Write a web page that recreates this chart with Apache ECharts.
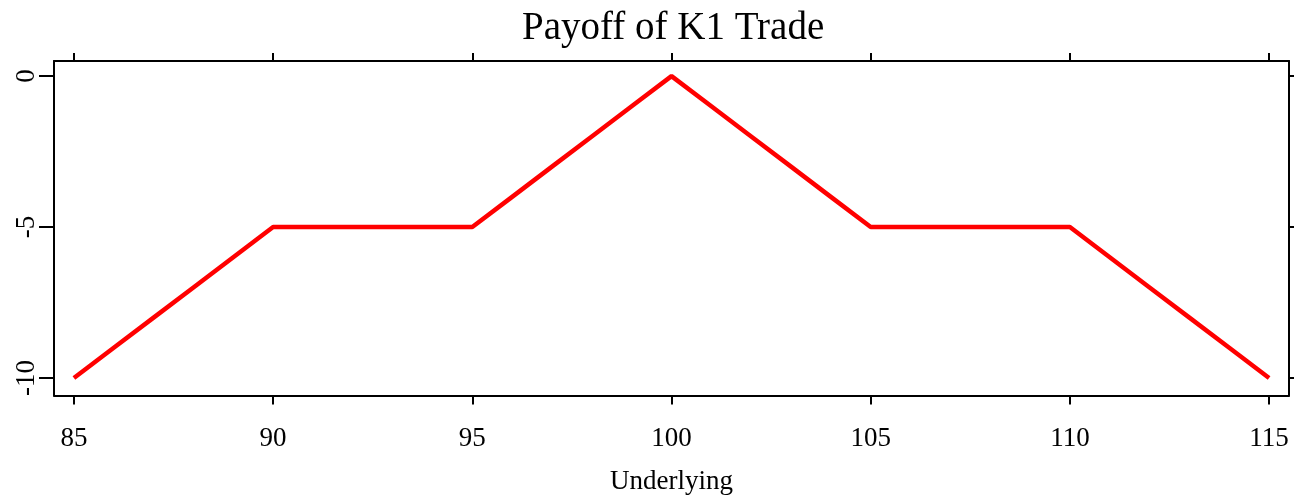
<!DOCTYPE html>
<html><head><meta charset="utf-8">
<script src="https://cdn.jsdelivr.net/npm/echarts@6/dist/echarts.min.js"></script>
<style>html,body{margin:0;padding:0;background:#fff}#c{width:1294px;height:496px}</style>
</head><body><div id="c"></div>
<script>
const underlying = [85,86,87,88,89,90,91,92,93,94,95,96,97,98,99,100,101,102,103,104,105,106,107,108,109,110,111,112,113,114,115];
const payoff = [-10,-9,-8,-7,-6,-5,-5,-5,-5,-5,-5,-4,-3,-2,-1,0,-1,-2,-3,-4,-5,-5,-5,-5,-5,-5,-6,-7,-8,-9,-10];
const xTicks = [85,90,95,100,105,110,115];
const yTicks = [-10,-5,0];
const titleText = 'Payoff of K1 Trade';
const xName = 'Underlying';

const font = 'Liberation Serif';
const chart = echarts.init(document.getElementById('c'));
const lineStyle = {color:'#000', width:2};
chart.setOption({
  animation:false,
  title:{text:titleText,left:517,top:4,textStyle:{fontFamily:font,fontSize:39,fontWeight:'normal',color:'#000'}},
  grid:{left:54,right:5,top:61,bottom:100.5,containLabel:false,outerBoundsMode:'none'},
  xAxis:[
    {type:'value',min:84.5,max:115.5,position:'bottom',name:xName,nameLocation:'middle',nameGap:73,
     nameTextStyle:{fontFamily:font,fontSize:27,color:'#000'},
     axisLine:{show:true,onZero:false,lineStyle:lineStyle},
     axisTick:{show:true,length:9,lineStyle:lineStyle,customValues:xTicks},
     axisLabel:{fontFamily:font,fontSize:27,color:'#000',margin:30,customValues:xTicks},
     splitLine:{show:false}},
    {type:'value',min:84.5,max:115.5,position:'top',
     axisLine:{show:true,onZero:false,lineStyle:lineStyle},
     axisTick:{show:true,length:8,lineStyle:lineStyle,customValues:xTicks},
     axisLabel:{show:false},splitLine:{show:false}}
  ],
  yAxis:[
    {type:'value',min:-10.58,max:0.5,position:'left',
     axisLine:{show:true,onZero:false,lineStyle:lineStyle},
     axisTick:{show:true,length:15,lineStyle:lineStyle,customValues:yTicks},
     axisLabel:{fontFamily:font,fontSize:27,color:'#000',rotate:90,margin:14,customValues:yTicks},
     splitLine:{show:false}},
    {type:'value',min:-10.58,max:0.5,position:'right',
     axisLine:{show:true,onZero:false,lineStyle:lineStyle},
     axisTick:{show:true,length:5,lineStyle:lineStyle,customValues:yTicks},
     axisLabel:{show:false},splitLine:{show:false}}
  ],
  series:[{type:'line',xAxisIndex:0,yAxisIndex:0,data:underlying.map((x,i)=>[x,payoff[i]]),showSymbol:false,symbol:'none',
    lineStyle:{color:'#ff0000',width:4.5},itemStyle:{color:'#ff0000'}}]
});
</script></body></html>
